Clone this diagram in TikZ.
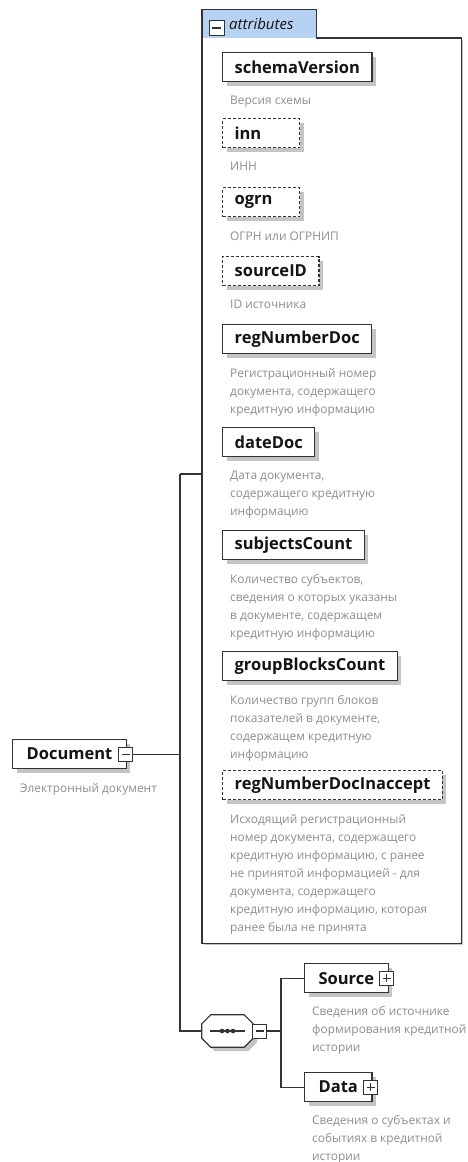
\documentclass[tikz,border=0pt]{standalone}
\usepackage{fontspec}
\setmainfont{Open Sans}
\usetikzlibrary{positioning}

\definecolor{edge}{HTML}{333333}
\definecolor{label}{HTML}{141414}
\definecolor{note}{HTML}{8E8E8E}
\definecolor{tabblue}{HTML}{B6D1F1}
\definecolor{shadow}{HTML}{C4C4C4}

\tikzset{
	shade box/.style={preaction={draw=none, fill=shadow, transform canvas={xshift=4pt, yshift=-4pt}}},
	attr/.style={draw=edge, line width=1.2pt, fill=white, shade box, minimum height=29pt,
		inner xsep=12pt, inner ysep=2pt, font=\fontsize{16.5}{18}\bfseries, text=label, anchor=north west},
	opt/.style={attr, dash pattern=on 3pt off 2pt},
	short/.style={text width=53pt, align=left},
	elem/.style={attr, inner xsep=14pt},
	note/.style={align=left, inner sep=0pt, font=\fontsize{11.9}{18}\selectfont, text=note},
	link/.style={draw=edge, line width=1.2pt},
	pmbox/.style={draw=edge, fill=white, line width=1pt, minimum size=14pt, inner sep=0pt},
	minus/.style={pmbox, path picture={
		\draw[edge, line width=1.1pt] ([xshift=3pt]path picture bounding box.west) -- ([xshift=-3pt]path picture bounding box.east);}},
	plus/.style={pmbox, path picture={
		\draw[edge, line width=1.1pt] ([xshift=3pt]path picture bounding box.west) -- ([xshift=-3pt]path picture bounding box.east);
		\draw[edge, line width=1.1pt] ([yshift=-3pt]path picture bounding box.north) -- ([yshift=3pt]path picture bounding box.south);}},
}

\begin{document}
\begin{tikzpicture}[x=1pt, y=-1pt]
	\useasboundingbox[fill=white] (0,0) rectangle (468,1162);

	% attribute group
	\node[fill=white, preaction={fill=shadow, transform canvas={xshift=2pt, yshift=-2pt}},
		minimum width=259pt, minimum height=905pt, inner sep=0pt, anchor=north west] (attrs) at (202,38) {};
	\node[fill=tabblue, minimum width=114pt, minimum height=28pt, inner sep=0pt, anchor=south west] (tab) at (attrs.north west) {};
	\draw[link] (attrs.south west) -- (tab.north west) -- (tab.north east) -- (tab.south east)
		-- (attrs.north east) -- (attrs.south east) -- cycle;
	\node[minus, minimum size=15pt] (tabm) at (216.5,28) {};
	\node[anchor=west, inner sep=0pt, font=\fontsize{15}{16}\itshape, text=label] (tabtext) at (229,24) {attributes};

	\node[attr] (schemaVersion) at (222,52) {schemaVersion};
	\node[note, below right=14pt and 8pt of schemaVersion.south west] (schemaVersionNote) {Версия схемы};

	\node[opt, short] (inn) at (222,118) {inn};
	\node[note, below right=14pt and 8pt of inn.south west] (innNote) {ИНН};

	\node[opt, short] (ogrn) at (222,187) {ogrn};
	\node[note, below right=14pt and 8pt of ogrn.south west] (ogrnNote) {ОГРН или ОГРНИП};

	\node[opt] (sourceID) at (222,256) {sourceID};
	\node[note, below right=14pt and 8pt of sourceID.south west] (sourceIDNote) {ID источника};

	\node[attr] (regNumberDoc) at (222,324) {regNumberDoc};
	\node[note, below right=14pt and 8pt of regNumberDoc.south west] (regNumberDocNote)
		{Регистрационный номер\\документа, содержащего\\кредитную информацию};

	\node[attr] (dateDoc) at (222,427) {dateDoc};
	\node[note, below right=14pt and 8pt of dateDoc.south west] (dateDocNote)
		{Дата документа,\\содержащего кредитную\\информацию};

	\node[attr] (subjectsCount) at (222,530) {subjectsCount};
	\node[note, below right=14pt and 8pt of subjectsCount.south west] (subjectsCountNote)
		{Количество субъектов,\\сведения о которых указаны\\в документе, содержащем\\кредитную информацию};

	\node[attr] (groupBlocksCount) at (222,651) {groupBlocksCount};
	\node[note, below right=14pt and 8pt of groupBlocksCount.south west] (groupBlocksCountNote)
		{Количество групп блоков\\показателей в документе,\\содержащем кредитную\\информацию};

	\node[opt] (regNumberDocInaccept) at (222,770) {regNumberDocInaccept};
	\node[note, below right=14pt and 8pt of regNumberDocInaccept.south west] (regNumberDocInacceptNote)
		{Исходящий регистрационный\\номер документа, содержащего\\кредитную информацию, с ранее\\не принятой информацией - для\\документа, содержащего\\кредитную информацию, которая\\ранее была не принята};

	% root element
	\node[elem] (doc) at (12,739) {Document\hspace{9pt}};
	\node[minus] (docm) at ([xshift=-1pt]doc.east) {};
	\node[note, below right=14pt and 8pt of doc.south west] (docNote) {Электронный документ};

	% sequence
	\node[minimum width=51pt, minimum height=32pt, inner sep=0pt] (seq) at (227.5,1031) {};
	\draw[link, fill=white, shade box] ([xshift=9pt]seq.north west) -- ([xshift=-9pt]seq.north east)
		-- ([yshift=-9pt]seq.north east) -- ([yshift=9pt]seq.south east) -- ([xshift=-9pt]seq.south east)
		-- ([xshift=9pt]seq.south west) -- ([yshift=9pt]seq.south west) -- ([yshift=-9pt]seq.north west) -- cycle;
	\draw[edge, line width=1.2pt] ([xshift=8pt]seq.west) -- ([xshift=-8pt]seq.east);
	\foreach \dx in {-5.5,0,5.5}
		\fill[edge] ([xshift=\dx pt]seq.center) circle (2.3pt);
	\node[minus, anchor=west] (seqm) at ([xshift=-1pt]seq.east) {};

	\node[elem] (src) at (304,963) {Source\hspace{6pt}};
	\node[plus] (srcp) at ([xshift=-2pt]src.east) {};
	\node[note, below right=13pt and 8pt of src.south west] (srcNote)
		{Сведения об источнике\\формирования кредитной\\истории};

	\node[elem] (dat) at (304,1072) {Data\hspace{13pt}};
	\node[plus] (datp) at ([xshift=-2pt]dat.east) {};
	\node[note, below right=13pt and 8pt of dat.south west] (datNote)
		{Сведения о субъектах и\\событиях в кредитной\\истории};

	% connectors
	\coordinate (trunk) at (180,474);
	\coordinate (fork) at (281,1031);
	\draw[link] (trunk) -- (trunk -| attrs.west);
	\draw[link] (docm.east) -- (docm.east -| trunk);
	\draw[link] (trunk) |- (seq.west);
	\draw[link] (seqm.east) -- (fork);
	\draw[link] (src.west) -| (fork) |- (dat.west);
\end{tikzpicture}
\end{document}
